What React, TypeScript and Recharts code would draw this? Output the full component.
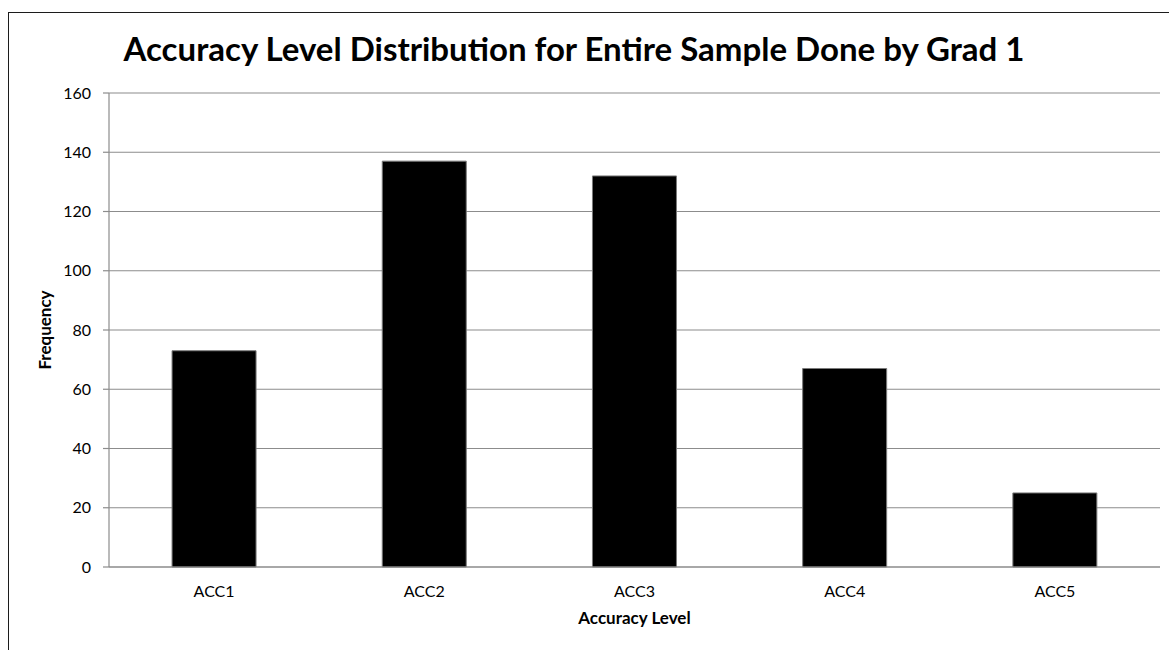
import { BarChart, Bar, XAxis, YAxis, CartesianGrid, Label } from 'recharts'

const levels = ['ACC1', 'ACC2', 'ACC3', 'ACC4', 'ACC5']
const frequency = [73, 137, 132, 67, 25]
const yTicks = [0, 20, 40, 60, 80, 100, 120, 140, 160]

const data = levels.map((level, i) => ({ level, frequency: frequency[i] }))

const FONT = 'Lato, "Open Sans", sans-serif'

export default function App() {
  return (
    <div
      style={{
        position: 'absolute',
        left: 0,
        top: 0,
        width: 1169,
        height: 650,
        overflow: 'hidden',
        background: '#fff',
        fontFamily: FONT,
      }}
    >
      {/* chart frame, only top and left edges are inside the picture */}
      <div
        style={{
          position: 'absolute',
          left: 8,
          top: 12,
          width: 1300,
          height: 800,
          border: '1.5px solid #1c1c1c',
        }}
      />
      <div
        style={{
          position: 'absolute',
          left: 0,
          top: 28,
          width: 1148,
          textAlign: 'center',
          fontSize: 33,
          fontWeight: 700,
          color: '#000',
          lineHeight: '40px',
        }}
      >
        Accuracy Level Distribution for Entire Sample Done by Grad 1
      </div>
      <div style={{ position: 'absolute', left: 0, top: 0 }}>
        <BarChart
          width={1169}
          height={650}
          data={data}
          margin={{ top: 93, right: 9, bottom: 53, left: 59 }}
          barCategoryGap="30%"
        >
          <CartesianGrid vertical={false} stroke="#8c8c8c" strokeWidth={1.2} />
          <XAxis
            dataKey="level"
            height={30}
            tickLine={false}
            axisLine={{ stroke: '#8c8c8c', strokeWidth: 1.2 }}
            tick={{ fill: '#000', fontSize: 16, fontFamily: FONT }}
            tickMargin={13}
          >
            <Label
              value="Accuracy Level"
              position="insideBottom"
              offset={-27}
              style={{ fill: '#000', fontSize: 17, fontWeight: 700, fontFamily: FONT }}
            />
          </XAxis>
          <YAxis
            width={50}
            domain={[0, 160]}
            ticks={yTicks}
            interval={0}
            tickSize={6}
            tickMargin={12}
            tickLine={{ stroke: '#8c8c8c', strokeWidth: 1.2 }}
            axisLine={{ stroke: '#8c8c8c', strokeWidth: 1.2 }}
            tick={{ fill: '#000', fontSize: 16, fontFamily: FONT }}
          >
            <Label
              value="Frequency"
              angle={-90}
              position="left"
              offset={14}
              style={{ fill: '#000', fontSize: 17, fontWeight: 700, fontFamily: FONT, textAnchor: 'middle' }}
            />
          </YAxis>
          <Bar
            dataKey="frequency"
            fill="#000"
            stroke="#7a7a7a"
            strokeWidth={1}
            isAnimationActive={false}
          />
        </BarChart>
      </div>
    </div>
  )
}
